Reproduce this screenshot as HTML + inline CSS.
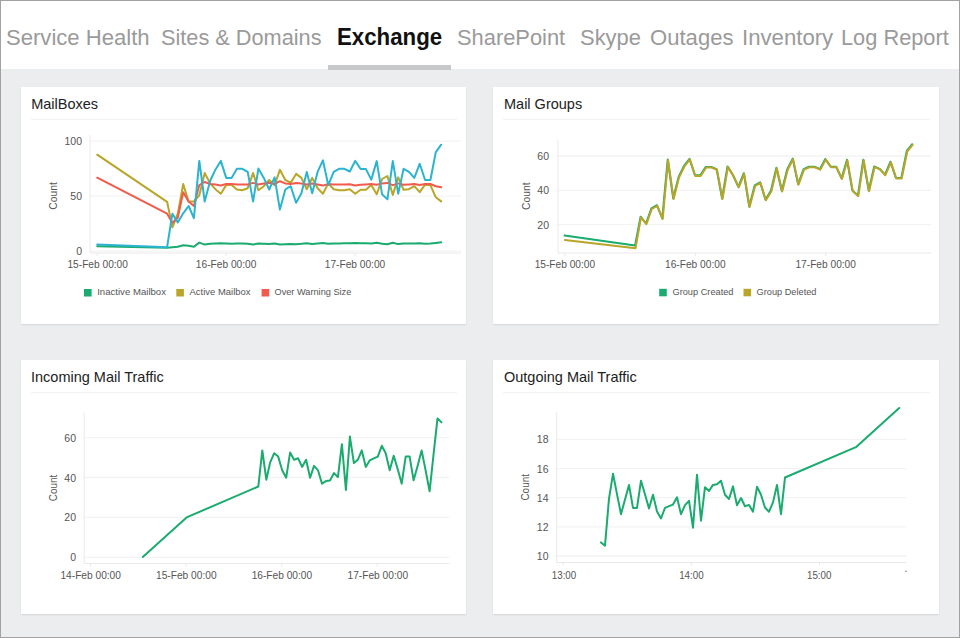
<!DOCTYPE html>
<html lang="en"><head><meta charset="utf-8"><title>Exchange</title>
<style>
html,body{margin:0;padding:0;}
body{width:960px;height:638px;position:relative;overflow:hidden;background:#ecedef;font-family:"Liberation Sans",sans-serif;}
#nav{position:absolute;left:0;top:0;width:960px;height:68.5px;background:#fff;}
.nv{position:absolute;top:24.5px;font-size:22px;line-height:26px;color:#9a9a9a;white-space:nowrap;transform-origin:0 50%;display:inline-block;}
.nv.act{color:#111;font-weight:bold;font-size:23px;top:23.5px;}
#ul{position:absolute;left:327.5px;top:65px;width:123.3px;height:4.5px;background:#c6c8c9;}
.card{position:absolute;background:#fff;box-shadow:0 1px 1.5px rgba(0,0,0,.10);}
.tt{position:absolute;font-size:14.5px;line-height:18px;color:#222;white-space:nowrap;transform-origin:0 50%;display:inline-block;}
.dv{position:absolute;height:1px;background:#f3f3f3;}
svg{position:absolute;left:0;top:0;font-family:"Liberation Sans",sans-serif;}
#frame{position:absolute;left:0;top:0;width:958px;height:636px;border:1px solid #a2a2a2;pointer-events:none;}
</style></head><body>
<div id="nav">
<span class="nv" style="left:6px;transform:scaleX(1.0036);">Service Health</span>
<span class="nv" style="left:161px;transform:scaleX(0.9869);">Sites &amp; Domains</span>
<span class="nv act" style="left:337.4px;transform:scaleX(0.9682);">Exchange</span>
<span class="nv" style="left:457px;transform:scaleX(0.9939);">SharePoint</span>
<span class="nv" style="left:580px;transform:scaleX(0.9974);">Skype</span>
<span class="nv" style="left:649.7px;transform:scaleX(1.0039);">Outages</span>
<span class="nv" style="left:742px;transform:scaleX(1.0077);">Inventory</span>
<span class="nv" style="left:841.2px;transform:scaleX(0.9903);">Log Report</span>
<div id="ul"></div>
</div>
<div class="card" style="left:21px;top:87px;width:444.9px;height:237.4px"></div>
<div class="card" style="left:493.3px;top:87px;width:445.8px;height:237.4px"></div>
<div class="card" style="left:21px;top:360.3px;width:445px;height:253.4px"></div>
<div class="card" style="left:493.3px;top:360.3px;width:445.8px;height:253.4px"></div>
<div class="tt" id="tt0" style="left:31.2px;top:94.8px;">MailBoxes</div>
<div class="dv" style="left:31px;top:118.6px;width:425.9px"></div>
<div class="tt" id="tt1" style="left:504px;top:94.8px;">Mail Groups</div>
<div class="dv" style="left:503.3px;top:118.6px;width:426.8px"></div>
<div class="tt" id="tt2" style="left:31px;top:368.1px;">Incoming Mail Traffic</div>
<div class="dv" style="left:31px;top:391.90000000000003px;width:426px"></div>
<div class="tt" id="tt3" style="left:504px;top:368.1px;">Outgoing Mail Traffic</div>
<div class="dv" style="left:503.3px;top:391.90000000000003px;width:426.8px"></div>
<svg width="960" height="638" viewBox="0 0 960 638">
<g id="c1">
<line x1="90" x2="461" y1="141.1" y2="141.1" stroke="#f3f3f3" stroke-width="1.3"/>
<line x1="90" x2="461" y1="196.1" y2="196.1" stroke="#f3f3f3" stroke-width="1.3"/>
<line x1="90" x2="461" y1="251.1" y2="251.1" stroke="#f3f3f3" stroke-width="1.3"/>
<line x1="90" x2="90" y1="135" y2="253" stroke="#e9e9e9" stroke-width="1"/>
<line x1="90" x2="461" y1="253" y2="253" stroke="#e9e9e9" stroke-width="1"/>
<line x1="97.2" x2="97.2" y1="253" y2="256" stroke="#e9e9e9" stroke-width="1"/>
<line x1="226.1" x2="226.1" y1="253" y2="256" stroke="#e9e9e9" stroke-width="1"/>
<line x1="355.0" x2="355.0" y1="253" y2="256" stroke="#e9e9e9" stroke-width="1"/>
<polyline fill="none" stroke="#1aab6f" stroke-width="2.0" stroke-linejoin="round" stroke-linecap="round" points="97.2,246.2 167.1,247.8 172.4,247.2 177.8,246.7 183.2,245.2 188.6,245.8 193.9,246.7 199.3,242.6 204.7,244.6 210.1,243.8 215.4,243.4 220.8,243.2 226.2,243.5 231.6,243.7 236.9,243.4 242.3,243.4 247.7,243.7 253.1,244.5 258.4,243.4 263.8,243.7 269.2,244.1 274.6,243.6 279.9,244.6 285.3,244.2 290.7,243.9 296.1,244.2 301.4,243.8 306.8,243.2 312.2,243.9 317.6,243.4 322.9,243.1 328.3,243.8 333.7,243.6 339.1,243.4 344.4,243.3 349.8,243.2 355.2,243.0 360.6,243.2 365.9,243.3 371.3,243.5 376.7,242.7 382.1,243.8 387.4,244.2 392.8,242.7 398.2,244.1 403.6,243.4 408.9,243.4 414.3,243.6 419.7,243.2 425.1,243.7 430.4,243.6 435.8,243.0 441.2,242.3"/>
<polyline fill="none" stroke="#b9a528" stroke-width="2.0" stroke-linejoin="round" stroke-linecap="round" points="97.2,154.7 167.1,201.8 172.4,227.4 177.8,213.7 183.2,184.1 188.6,201.6 193.9,201.6 199.3,195.3 204.7,172.9 210.1,183.4 215.4,189.2 220.8,193.7 226.2,185.1 231.6,185.1 236.9,189.6 242.3,190.2 247.7,188.2 253.1,173.0 258.4,190.2 263.8,186.2 269.2,180.0 274.6,185.1 279.9,169.8 285.3,180.0 290.7,182.7 296.1,173.9 301.4,177.9 306.8,189.2 312.2,177.9 317.6,188.2 322.9,193.7 328.3,183.4 333.7,189.2 339.1,190.2 344.4,190.2 349.8,189.2 355.2,193.7 360.6,189.7 365.9,189.7 371.3,185.1 376.7,194.3 382.1,179.0 387.4,176.0 392.8,194.9 398.2,177.4 403.6,189.8 408.9,189.2 414.3,186.2 419.7,192.2 425.1,184.7 430.4,185.1 435.8,197.3 441.2,201.4"/>
<polyline fill="none" stroke="#f25b4c" stroke-width="2.0" stroke-linejoin="round" stroke-linecap="round" points="97.2,177.7 167.1,213.7 172.4,222.8 177.8,217.7 183.2,192.2 188.6,201.4 193.9,205.9 199.3,185.1 204.7,182.0 210.1,184.0 215.4,184.5 220.8,185.5 226.2,184.0 231.6,184.0 236.9,184.5 242.3,184.5 247.7,184.5 253.1,182.9 258.4,184.5 263.8,183.4 269.2,182.7 274.6,184.0 279.9,181.2 285.3,183.4 290.7,184.0 296.1,182.9 301.4,183.4 306.8,184.5 312.2,183.4 317.6,184.5 322.9,185.6 328.3,184.0 333.7,184.5 339.1,184.5 344.4,184.5 349.8,184.2 355.2,185.5 360.6,184.7 365.9,184.4 371.3,184.0 376.7,184.7 382.1,183.4 387.4,182.9 392.8,185.1 398.2,183.4 403.6,184.7 408.9,184.4 414.3,184.0 419.7,185.1 425.1,184.0 430.4,184.0 435.8,186.2 441.2,187.3"/>
<polyline fill="none" stroke="#2bb4cf" stroke-width="2.0" stroke-linejoin="round" stroke-linecap="round" points="97.2,244.5 167.1,247.2 172.4,213.7 177.8,222.5 183.2,213.3 188.6,206.0 193.9,218.1 199.3,160.9 204.7,201.6 210.1,181.0 215.4,169.7 220.8,160.9 226.2,177.9 231.6,177.9 236.9,168.8 242.3,168.8 247.7,171.9 253.1,201.6 258.4,168.6 263.8,177.9 269.2,189.5 274.6,177.4 279.9,209.6 285.3,189.5 290.7,186.2 296.1,202.7 301.4,193.3 306.8,171.9 312.2,193.3 317.6,171.9 322.9,160.3 328.3,185.1 333.7,171.9 339.1,168.8 344.4,168.8 349.8,171.5 355.2,160.9 360.6,169.0 365.9,169.1 371.3,179.6 376.7,161.1 382.1,194.3 387.4,199.4 392.8,161.1 398.2,193.7 403.6,168.8 408.9,171.9 414.3,177.9 419.7,163.8 425.1,180.0 430.4,180.0 435.8,152.1 441.2,144.7"/>
<text x="82" y="145.09999999999997" text-anchor="end" font-size="10.5" fill="#555">100</text>
<text x="82" y="200.1" text-anchor="end" font-size="10.5" fill="#555">50</text>
<text x="82" y="255.1" text-anchor="end" font-size="10.5" fill="#555">0</text>
<text x="97.7" y="268.4" text-anchor="middle" font-size="10.5" fill="#555" textLength="60.5" lengthAdjust="spacingAndGlyphs">15-Feb 00:00</text>
<text x="226.1" y="268.4" text-anchor="middle" font-size="10.5" fill="#555" textLength="60.5" lengthAdjust="spacingAndGlyphs">16-Feb 00:00</text>
<text x="355.0" y="268.4" text-anchor="middle" font-size="10.5" fill="#555" textLength="60.5" lengthAdjust="spacingAndGlyphs">17-Feb 00:00</text>
<text transform="translate(57.3,196) rotate(-90)" text-anchor="middle" font-size="10.5" fill="#555" textLength="27.6" lengthAdjust="spacingAndGlyphs">Count</text>
<rect x="84" y="289" width="7.6" height="7.5" fill="#1aab6f"/>
<text x="97.2" y="295.1" text-anchor="start" font-size="9.7" fill="#555" textLength="68.8" lengthAdjust="spacingAndGlyphs">Inactive Mailbox</text>
<rect x="176.3" y="289" width="7.6" height="7.5" fill="#b9a528"/>
<text x="189.5" y="295.1" text-anchor="start" font-size="9.7" fill="#555" textLength="61" lengthAdjust="spacingAndGlyphs">Active Mailbox</text>
<rect x="261.6" y="289" width="7.6" height="7.5" fill="#f25b4c"/>
<text x="274.5" y="295.1" text-anchor="start" font-size="9.7" fill="#555" textLength="76.8" lengthAdjust="spacingAndGlyphs">Over Warning Size</text>
</g>
<g id="c2">
<line x1="558" x2="931" y1="156.0" y2="156.0" stroke="#f3f3f3" stroke-width="1.3"/>
<line x1="558" x2="931" y1="190.3" y2="190.3" stroke="#f3f3f3" stroke-width="1.3"/>
<line x1="558" x2="931" y1="224.7" y2="224.7" stroke="#f3f3f3" stroke-width="1.3"/>
<line x1="558" x2="558" y1="139.5" y2="253" stroke="#e9e9e9" stroke-width="1"/>
<line x1="558" x2="931" y1="253" y2="253" stroke="#e9e9e9" stroke-width="1"/>
<line x1="564.9" x2="564.9" y1="253" y2="256" stroke="#e9e9e9" stroke-width="1"/>
<line x1="695.3" x2="695.3" y1="253" y2="256" stroke="#e9e9e9" stroke-width="1"/>
<line x1="825.7" x2="825.7" y1="253" y2="256" stroke="#e9e9e9" stroke-width="1"/>
<polyline fill="none" stroke="#1aab6f" stroke-width="2.0" stroke-linejoin="round" stroke-linecap="round" points="564.5,235.6 635.1,245.5 640.6,216.7 646.0,223.5 651.4,208.4 656.9,205.2 662.3,218.4 667.7,159.5 673.2,198.3 678.6,177.0 684.0,165.9 689.5,158.8 694.9,175.3 700.3,175.3 705.8,166.9 711.2,166.9 716.6,169.1 722.1,198.5 727.5,166.4 732.9,175.0 738.4,186.8 743.8,173.2 749.2,206.4 754.7,185.4 760.1,182.3 765.5,199.7 771.0,190.6 776.4,167.7 781.8,190.9 787.3,169.1 792.7,158.6 798.1,184.1 803.6,169.1 809.0,166.7 814.4,166.7 819.9,169.1 825.3,159.0 830.7,166.7 836.1,166.7 841.6,178.4 847.0,159.7 852.4,190.6 857.9,195.6 863.3,159.7 868.7,190.6 874.2,166.5 879.6,168.8 885.0,174.6 890.5,161.7 895.9,177.9 901.3,177.9 906.8,150.9 912.2,144.2"/>
<polyline fill="none" stroke="#b9a528" stroke-width="2.0" stroke-linejoin="round" stroke-linecap="round" points="564.9,239.9 635.5,248.2 641.0,217.3 646.4,224.1 651.8,209.0 657.3,205.8 662.7,219.0 668.1,160.1 673.6,198.9 679.0,177.6 684.4,166.5 689.9,159.4 695.3,175.9 700.7,175.9 706.2,167.5 711.6,167.5 717.0,169.7 722.5,199.1 727.9,167.0 733.3,175.6 738.8,187.4 744.2,173.8 749.6,207.0 755.1,186.0 760.5,182.9 765.9,200.3 771.4,191.2 776.8,168.3 782.2,191.5 787.7,169.7 793.1,159.2 798.5,184.7 804.0,169.7 809.4,167.3 814.8,167.3 820.3,169.7 825.7,159.6 831.1,167.3 836.5,167.3 842.0,179.0 847.4,160.3 852.8,191.2 858.3,196.2 863.7,160.3 869.1,191.2 874.6,167.1 880.0,169.4 885.4,175.2 890.9,162.3 896.3,178.5 901.7,178.5 907.2,151.5 912.6,144.8"/>
<text x="549" y="159.98" text-anchor="end" font-size="10.5" fill="#555">60</text>
<text x="549" y="194.32" text-anchor="end" font-size="10.5" fill="#555">40</text>
<text x="549" y="228.66" text-anchor="end" font-size="10.5" fill="#555">20</text>
<text x="564.9" y="268.4" text-anchor="middle" font-size="10.5" fill="#555" textLength="60.5" lengthAdjust="spacingAndGlyphs">15-Feb 00:00</text>
<text x="695.3" y="268.4" text-anchor="middle" font-size="10.5" fill="#555" textLength="60.5" lengthAdjust="spacingAndGlyphs">16-Feb 00:00</text>
<text x="825.7" y="268.4" text-anchor="middle" font-size="10.5" fill="#555" textLength="60.5" lengthAdjust="spacingAndGlyphs">17-Feb 00:00</text>
<text transform="translate(529.8,196.2) rotate(-90)" text-anchor="middle" font-size="10.5" fill="#555" textLength="27.6" lengthAdjust="spacingAndGlyphs">Count</text>
<rect x="659.2" y="288.8" width="7.6" height="7.5" fill="#1aab6f"/>
<text x="672.5" y="295.1" text-anchor="start" font-size="9.7" fill="#555" textLength="61" lengthAdjust="spacingAndGlyphs">Group Created</text>
<rect x="743.5" y="288.8" width="7.6" height="7.5" fill="#b9a528"/>
<text x="756.5" y="295.1" text-anchor="start" font-size="9.7" fill="#555" textLength="60" lengthAdjust="spacingAndGlyphs">Group Deleted</text>
</g>
<g id="c3">
<line x1="84" x2="449.5" y1="437.6" y2="437.6" stroke="#f3f3f3" stroke-width="1.3"/>
<line x1="84" x2="449.5" y1="477.5" y2="477.5" stroke="#f3f3f3" stroke-width="1.3"/>
<line x1="84" x2="449.5" y1="517.4" y2="517.4" stroke="#f3f3f3" stroke-width="1.3"/>
<line x1="84" x2="449.5" y1="557.3" y2="557.3" stroke="#f3f3f3" stroke-width="1.3"/>
<line x1="84.2" x2="84.2" y1="412.5" y2="563.5" stroke="#e9e9e9" stroke-width="1"/>
<line x1="84" x2="449.5" y1="563.5" y2="563.5" stroke="#e9e9e9" stroke-width="1"/>
<line x1="90.5" x2="90.5" y1="563.5" y2="566.5" stroke="#e9e9e9" stroke-width="1"/>
<line x1="186.1" x2="186.1" y1="563.5" y2="566.5" stroke="#e9e9e9" stroke-width="1"/>
<line x1="281.7" x2="281.7" y1="563.5" y2="566.5" stroke="#e9e9e9" stroke-width="1"/>
<line x1="377.3" x2="377.3" y1="563.5" y2="566.5" stroke="#e9e9e9" stroke-width="1"/>
<polyline fill="none" stroke="#1aab6f" stroke-width="2.0" stroke-linejoin="round" stroke-linecap="round" points="142.8,556.9 186.6,517.4 258.3,486.5 262.3,450.4 266.3,479.7 270.2,462.3 274.2,453.2 278.2,456.6 282.2,470.3 286.2,477.7 290.1,452.6 294.1,459.7 298.1,458.3 302.1,466.9 306.1,459.7 310.1,477.7 314.0,465.9 318.0,470.3 322.0,483.7 326.0,481.1 330.0,480.5 334.0,473.1 337.9,477.1 341.9,444.2 345.9,489.9 349.9,436.6 353.9,463.1 357.9,459.7 361.8,450.4 365.8,466.9 369.8,460.3 373.8,458.3 377.8,456.6 381.8,445.8 385.7,453.2 389.7,470.3 393.7,455.8 397.7,469.1 401.7,483.7 405.7,456.4 409.6,456.4 413.6,480.3 417.6,465.9 421.6,450.4 425.6,470.3 429.6,491.3 433.5,454.8 437.5,418.4 441.5,422.4"/>
<text x="76" y="441.59999999999997" text-anchor="end" font-size="10.5" fill="#555">60</text>
<text x="76" y="481.49999999999994" text-anchor="end" font-size="10.5" fill="#555">40</text>
<text x="76" y="521.4" text-anchor="end" font-size="10.5" fill="#555">20</text>
<text x="76" y="561.3" text-anchor="end" font-size="10.5" fill="#555">0</text>
<text x="90.7" y="579" text-anchor="middle" font-size="10.5" fill="#555" textLength="60.5" lengthAdjust="spacingAndGlyphs">14-Feb 00:00</text>
<text x="186.3" y="579" text-anchor="middle" font-size="10.5" fill="#555" textLength="60.5" lengthAdjust="spacingAndGlyphs">15-Feb 00:00</text>
<text x="281.9" y="579" text-anchor="middle" font-size="10.5" fill="#555" textLength="60.5" lengthAdjust="spacingAndGlyphs">16-Feb 00:00</text>
<text x="377.8" y="579" text-anchor="middle" font-size="10.5" fill="#555" textLength="60.5" lengthAdjust="spacingAndGlyphs">17-Feb 00:00</text>
<text transform="translate(56.8,488) rotate(-90)" text-anchor="middle" font-size="10.5" fill="#555" textLength="26.5" lengthAdjust="spacingAndGlyphs">Count</text>
</g>
<g id="c4">
<line x1="556.5" x2="906.5" y1="439.4" y2="439.4" stroke="#f3f3f3" stroke-width="1.3"/>
<line x1="556.5" x2="906.5" y1="468.6" y2="468.6" stroke="#f3f3f3" stroke-width="1.3"/>
<line x1="556.5" x2="906.5" y1="497.7" y2="497.7" stroke="#f3f3f3" stroke-width="1.3"/>
<line x1="556.5" x2="906.5" y1="526.9" y2="526.9" stroke="#f3f3f3" stroke-width="1.3"/>
<line x1="556.5" x2="906.5" y1="556.0" y2="556.0" stroke="#f3f3f3" stroke-width="1.3"/>
<line x1="556.7" x2="556.7" y1="412" y2="562.5" stroke="#e9e9e9" stroke-width="1"/>
<line x1="556.5" x2="906.5" y1="562.5" y2="562.5" stroke="#e9e9e9" stroke-width="1"/>
<line x1="563.3" x2="563.3" y1="562.5" y2="565.5" stroke="#e9e9e9" stroke-width="1"/>
<line x1="691.4" x2="691.4" y1="562.5" y2="565.5" stroke="#e9e9e9" stroke-width="1"/>
<line x1="819.5" x2="819.5" y1="562.5" y2="565.5" stroke="#e9e9e9" stroke-width="1"/>
<polyline fill="none" stroke="#1aab6f" stroke-width="2.0" stroke-linejoin="round" stroke-linecap="round" points="601.0,542.4 605.0,545.7 609.0,498.6 613.0,473.8 617.0,494.1 621.0,514.2 625.0,499.6 629.0,485.0 633.0,507.9 637.0,507.9 641.0,480.7 645.0,494.5 649.0,508.4 653.0,494.8 657.0,511.4 661.0,518.4 665.0,507.9 669.0,506.2 673.0,504.6 677.0,497.3 681.0,514.2 685.0,505.2 689.0,500.8 693.0,527.7 697.0,474.7 701.0,520.7 705.0,487.2 709.0,491.0 713.0,484.9 717.0,484.2 721.0,480.7 725.0,494.8 729.0,499.0 733.0,486.4 737.0,505.2 741.0,498.0 745.0,506.2 749.0,504.9 753.0,511.7 757.0,486.8 761.0,494.8 765.0,507.5 769.0,511.7 773.0,502.4 777.0,484.9 781.0,514.2 785.0,477.5 855.9,447.2 899.2,408.0"/>
<text x="548.5" y="443.44" text-anchor="end" font-size="10.5" fill="#555">18</text>
<text x="548.5" y="472.58" text-anchor="end" font-size="10.5" fill="#555">16</text>
<text x="548.5" y="501.72" text-anchor="end" font-size="10.5" fill="#555">14</text>
<text x="548.5" y="530.86" text-anchor="end" font-size="10.5" fill="#555">12</text>
<text x="548.5" y="560.0" text-anchor="end" font-size="10.5" fill="#555">10</text>
<text x="564" y="578.6" text-anchor="middle" font-size="10.5" fill="#555" textLength="24.5" lengthAdjust="spacingAndGlyphs">13:00</text>
<text x="691.4" y="578.6" text-anchor="middle" font-size="10.5" fill="#555" textLength="24.5" lengthAdjust="spacingAndGlyphs">14:00</text>
<text x="819.2" y="578.6" text-anchor="middle" font-size="10.5" fill="#555" textLength="24.5" lengthAdjust="spacingAndGlyphs">15:00</text>
<rect x="905.2" y="570.6" width="1.6" height="1.4" fill="#999"/>
<text transform="translate(529.4,487.3) rotate(-90)" text-anchor="middle" font-size="10.5" fill="#555" textLength="26.5" lengthAdjust="spacingAndGlyphs">Count</text>
</g>
</svg>
<div id="frame"></div>
</body></html>
